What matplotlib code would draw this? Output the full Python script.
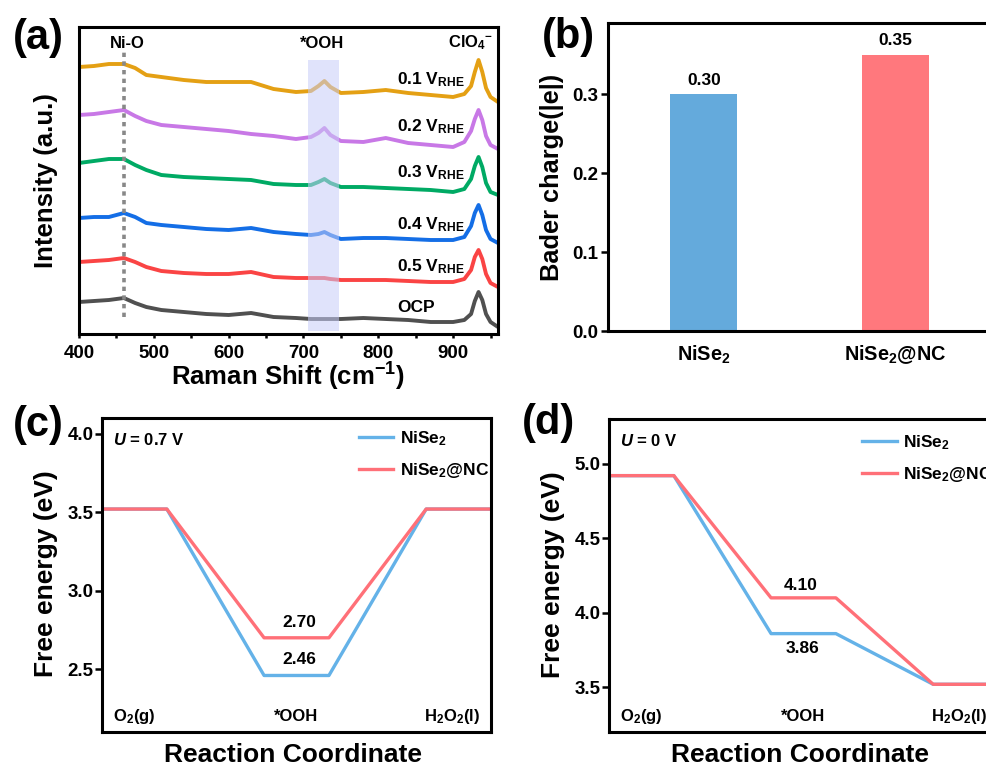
import matplotlib
matplotlib.use("Agg")
import matplotlib.pyplot as plt
from matplotlib.ticker import MultipleLocator, FormatStrFormatter

plt.rcParams['font.family'] = ['Liberation Sans', 'DejaVu Sans']
plt.rcParams['font.weight'] = 'bold'
plt.rcParams['axes.labelweight'] = 'bold'
plt.rcParams['mathtext.fontset'] = 'custom'
plt.rcParams['mathtext.rm'] = 'Liberation Sans:bold'
plt.rcParams['mathtext.bf'] = 'Liberation Sans:bold'
plt.rcParams['mathtext.it'] = 'Liberation Sans:italic:bold'
plt.rcParams['axes.linewidth'] = 2.2

# ---------------- data ----------------
raman_x = [400, 420, 440, 460, 475, 490, 510, 540, 570, 600, 630, 660, 690, 710, 720,
           728, 736, 750, 780, 810, 840, 870, 900, 915, 924, 929, 934, 939, 944, 950, 960]
raman_01 = [267, 268, 270, 270, 266, 259, 257, 254, 252, 252, 252, 245, 242, 243, 248,
            253, 247, 241, 242, 244, 241, 239, 237, 240, 248, 262, 274, 262, 246, 237, 232]
raman_02 = [219, 220, 222, 224, 218, 213, 209, 207, 205, 203, 200, 198, 195, 197, 201,
            206, 199, 193, 192, 196, 191, 189, 187, 192, 203, 215, 224, 214, 198, 189, 185]
raman_03 = [171, 173, 175, 175, 169, 164, 159, 157, 156, 155, 154, 150, 149, 149, 152,
            155, 151, 147, 147, 146, 145, 144, 142, 145, 155, 168, 177, 167, 151, 142, 139]
raman_04 = [116, 117, 117, 121, 117, 111, 109, 107, 105, 104, 106, 102, 100, 99, 100,
            102, 99, 95, 96, 96, 95, 94, 94, 97, 108, 121, 129, 119, 104, 95, 91]
raman_05 = [72, 73, 74, 76, 72, 67, 63, 61, 60, 60, 62, 57, 56, 56, 56,
            56, 55, 54, 54, 54, 53, 52, 52, 55, 64, 77, 84, 75, 60, 51, 47]
raman_ocp = [32, 33, 34, 36, 31, 27, 24, 22, 20, 19, 21, 17, 16, 15, 15,
             15, 15, 15, 16, 15, 14, 12, 12, 14, 20, 33, 42, 34, 20, 12, 7]
raman_series = [raman_01, raman_02, raman_03, raman_04, raman_05, raman_ocp]
raman_labels = [r"0.1 V$_{\mathregular{RHE}}$", r"0.2 V$_{\mathregular{RHE}}$",
                r"0.3 V$_{\mathregular{RHE}}$", r"0.4 V$_{\mathregular{RHE}}$",
                r"0.5 V$_{\mathregular{RHE}}$", "OCP"]
raman_label_y = [254, 207, 161, 109, 67, 26]
raman_colors = ['#E4A014', '#C878E6', '#00AA64', '#146EE6', '#FA4444', '#505050']
nio_pos = 460
ooh_band = [706, 748]

bader_cats = [r"NiSe$_2$", r"NiSe$_2$@NC"]
bader_vals = [0.30, 0.35]
bader_colors = ['#64AADC', '#FF787D']

step_x = [0, 1, 2.5, 3.5, 5, 6]
step_names = [r"O$_2$(g)", "*OOH", r"H$_2$O$_2$(l)"]
step_name_x = [0.5, 3.0, 5.4]
c_nise2 = [3.52, 3.52, 2.46, 2.46, 3.52, 3.52]
c_nc = [3.52, 3.52, 2.70, 2.70, 3.52, 3.52]
d_nise2 = [4.92, 4.92, 3.86, 3.86, 3.52, 3.52]
d_nc = [4.92, 4.92, 4.10, 4.10, 3.52, 3.52]
line_blue = '#64B2E8'
line_red = '#FF7078'

W, H = 987, 765
fig = plt.figure(figsize=(W / 100, H / 100), dpi=100)


def px_axes(l, t, r, b):
    return fig.add_axes([l / W, 1 - b / H, (r - l) / W, (b - t) / H])


def bold_ticks(ax):
    for lab in ax.get_xticklabels() + ax.get_yticklabels():
        lab.set_fontweight('bold')


# ---------------- (a) ----------------
ax = px_axes(79, 27, 498, 334)
for ys, c in zip(raman_series, raman_colors):
    ax.plot(raman_x, ys, color=c, lw=2.8, solid_joinstyle='round')
ax.fill_between(ooh_band, [3, 3], [274, 274], color='#C8CDF8', alpha=0.55, lw=0, zorder=5)
ax.plot([nio_pos, nio_pos], [17, 284], color='#888888', lw=2.6, ls=(0, (1.2, 1.2)), zorder=6)
for lab, yy in zip(raman_labels, raman_label_y):
    xr = 876 if lab == "OCP" else 916
    ax.text(xr, yy, lab, ha='right', va='center', fontsize=12.5)
ax.text(464, 291, "Ni-O", ha='center', va='center', fontsize=12)
ax.text(725, 291, "*OOH", ha='center', va='center', fontsize=12)
ax.text(923, 291, r"ClO$_{4}$$^{-}$", ha='center', va='center', fontsize=12)
ax.set_xlim(400, 960)
ax.set_ylim(0, 307)
ax.set_yticks([])
ax.xaxis.set_major_locator(MultipleLocator(100))
ax.xaxis.set_minor_locator(MultipleLocator(50))
ax.tick_params(axis='x', which='both', direction='out', length=3, width=1.8, labelsize=13.5, pad=5)
bold_ticks(ax)
ax.set_xlabel(r"Raman Shift (cm$^{-1}$)", fontsize=18.5, fontweight='bold')
ax.xaxis.set_label_coords(0.499, -0.14)
ax.xaxis.label.set_verticalalignment('center')
ax.set_ylabel("Intensity (a.u.)", fontsize=18.5, fontweight='bold')
ax.yaxis.set_label_coords(-0.079, 0.5)
ax.yaxis.label.set_verticalalignment('center')

# ---------------- (b) ----------------
ax = px_axes(608, 23, 991, 331)
xpos = list(range(len(bader_cats)))
ax.bar(xpos, bader_vals, width=0.35, color=bader_colors)
for xi, v in zip(xpos, bader_vals):
    ax.text(xi, v + 0.008, f"{v:.2f}", ha='center', va='bottom', fontsize=12.5)
ax.set_xlim(-0.5, 1.5)
ax.set_ylim(0, 0.39)
ax.set_xticks(xpos)
ax.set_xticklabels(bader_cats)
ax.set_yticks([0.0, 0.1, 0.2, 0.3])
ax.yaxis.set_major_formatter(FormatStrFormatter('%.1f'))
ax.tick_params(axis='x', length=0, labelsize=14.3, pad=9)
ax.tick_params(axis='y', direction='out', length=5, width=1.8, labelsize=13.5, pad=2)
bold_ticks(ax)
ax.set_ylabel("Bader charge(|e|)", fontsize=18.3, fontweight='bold')
ax.yaxis.set_label_coords(-0.146, 0.5)
ax.yaxis.label.set_verticalalignment('center')


# ---------------- (c) & (d) ----------------
def energy_panel(box, y_nise2, y_nc, ylim, yticks, ulabel, vlabels, leg_anchor):
    ax = px_axes(*box)
    ax.plot(step_x, y_nise2, color=line_blue, lw=2.4, label=r"NiSe$_2$")
    ax.plot(step_x, y_nc, color=line_red, lw=2.4, label=r"NiSe$_2$@NC")
    ax.set_xlim(0, 6)
    ax.set_ylim(*ylim)
    ax.set_xticks([])
    ax.set_yticks(yticks)
    ax.yaxis.set_major_formatter(FormatStrFormatter('%.1f'))
    ax.tick_params(axis='y', direction='out', length=5, width=1.8, labelsize=13.5, pad=1)
    bold_ticks(ax)
    for nm, xx in zip(step_names, step_name_x):
        ax.text(xx, 0.035, nm, transform=ax.get_xaxis_transform(), ha='center',
                va='baseline', fontsize=12)
    ax.text(0.028, 0.93, ulabel, transform=ax.transAxes, ha='left', va='center', fontsize=12)
    for (xx, yy, s) in vlabels:
        ax.text(xx, yy, s, ha='center', va='center', fontsize=12.5)
    ax.legend(loc='upper left', bbox_to_anchor=leg_anchor, frameon=False, fontsize=12.5,
              handlelength=2.0, handletextpad=0.35, labelspacing=0.75,
              borderpad=0, borderaxespad=0)
    ax.set_xlabel("Reaction Coordinate", fontsize=19, fontweight='bold')
    ax.xaxis.set_label_coords(0.491, -0.073)
    ax.xaxis.label.set_verticalalignment('center')
    ax.set_ylabel("Free energy (eV)", fontsize=19, fontweight='bold')
    ax.yaxis.set_label_coords(-0.145, 0.503)
    ax.yaxis.label.set_verticalalignment('center')
    return ax


energy_panel((102, 418, 491, 732), c_nise2, c_nc, (2.1, 4.1), [2.5, 3.0, 3.5, 4.0],
             r"$U$ = 0.7 V",
             [(3.05, c_nc[2] + 0.10, f"{c_nc[2]:.2f}"),
              (3.05, c_nise2[2] + 0.10, f"{c_nise2[2]:.2f}")],
             (0.66, 0.965))
energy_panel((609, 419, 998, 732), d_nise2, d_nc, (3.2, 5.3), [3.5, 4.0, 4.5, 5.0],
             r"$U$ = 0 V",
             [(2.95, d_nc[2] + 0.08, f"{d_nc[2]:.2f}"),
              (2.98, d_nise2[2] - 0.10, f"{d_nise2[2]:.2f}")],
             (0.65, 0.955))

# panel letters
for s, xp, yp in [("(a)", 13, 38), ("(b)", 542, 37), ("(c)", 13, 425), ("(d)", 522, 423)]:
    fig.text(xp / W, 1 - yp / H, s, ha='left', va='center', fontsize=30, fontweight='bold')

fig.savefig("out.png", dpi=100)
